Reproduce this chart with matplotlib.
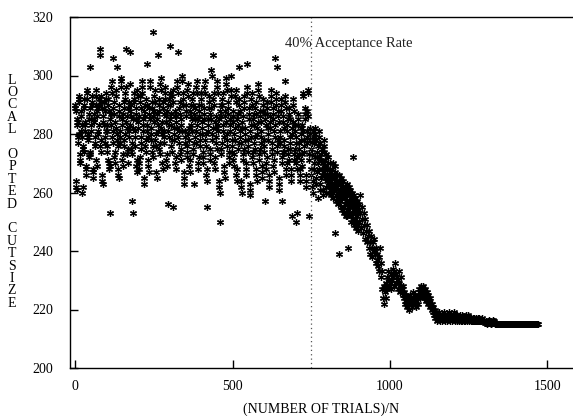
import numpy as np
import matplotlib
matplotlib.use("Agg")
import matplotlib.pyplot as plt

# Local opted cutsize readings.
# Noisy phase: one reading per trial/N from 0 to 899 (100 readings per list)
noisy_0000 = [289, 290, 288, 262, 264, 261, 283, 285, 284, 279,
              277, 280, 291, 293, 292, 271, 270, 273, 286, 288,
              281, 283, 279, 260, 262, 275, 276, 274, 290, 292,
              289, 283, 281, 284, 268, 266, 269, 294, 295, 292,
              280, 278, 279, 287, 285, 272, 274, 273, 303, 289,
              283, 281, 285, 291, 290, 293, 267, 265, 268, 285,
              287, 284, 277, 279, 276, 293, 295, 290, 271, 269,
              288, 286, 289, 281, 280, 283, 292, 290, 307, 309,
              276, 278, 274, 291, 293, 289, 264, 266, 263, 284,
              286, 283, 289, 291, 288, 279, 277, 281, 294, 292]
noisy_0100 = [283, 281, 274, 276, 271, 290, 292, 288, 268, 270,
              253, 269, 285, 287, 283, 296, 298, 294, 279, 277,
              306, 281, 289, 291, 287, 272, 270, 274, 284, 282,
              293, 295, 303, 280, 278, 276, 266, 268, 265, 288,
              290, 286, 279, 281, 277, 298, 296, 299, 283, 285,
              271, 273, 269, 287, 289, 291, 278, 276, 280, 294,
              292, 296, 309, 284, 282, 286, 273, 275, 270, 289,
              291, 281, 279, 283, 297, 308, 288, 286, 290, 275,
              257, 277, 273, 285, 253, 282, 292, 294, 291, 279,
              281, 276, 287, 285, 289, 269, 267, 271, 295, 293]
noisy_0200 = [284, 282, 286, 270, 268, 272, 291, 293, 289, 277,
              279, 275, 296, 298, 294, 283, 281, 285, 265, 263,
              288, 290, 286, 276, 274, 278, 292, 304, 290, 281,
              283, 279, 269, 271, 267, 287, 289, 285, 296, 298,
              280, 278, 282, 291, 289, 274, 276, 315, 272, 286,
              288, 284, 293, 295, 291, 278, 276, 280, 267, 265,
              285, 287, 307, 283, 281, 290, 292, 288, 275, 273,
              277, 297, 299, 295, 282, 284, 280, 270, 268, 289,
              291, 287, 279, 281, 277, 294, 292, 296, 284, 286,
              271, 273, 269, 288, 290, 256, 281, 283, 279, 292]
noisy_0300 = [294, 290, 310, 285, 287, 283, 276, 274, 278, 293,
              291, 295, 255, 280, 282, 278, 288, 286, 270, 272,
              268, 284, 286, 282, 296, 298, 294, 308, 279, 281,
              277, 289, 291, 287, 273, 275, 271, 283, 285, 281,
              300, 298, 292, 294, 290, 265, 267, 263, 279, 277,
              281, 290, 288, 286, 274, 276, 272, 295, 297, 293,
              280, 282, 278, 269, 271, 267, 288, 286, 290, 283,
              281, 285, 292, 294, 290, 275, 273, 277, 263, 287,
              289, 285, 279, 281, 277, 296, 298, 294, 283, 285,
              270, 268, 272, 288, 286, 290, 278, 280, 276, 292]
noisy_0400 = [294, 290, 282, 284, 280, 272, 270, 274, 287, 289,
              285, 296, 298, 294, 278, 276, 280, 266, 268, 264,
              255, 283, 281, 285, 291, 289, 293, 273, 271, 275,
              287, 285, 289, 302, 300, 280, 278, 282, 307, 292,
              294, 290, 270, 268, 272, 284, 286, 282, 277, 279,
              275, 296, 298, 294, 283, 281, 285, 262, 264, 260,
              250, 288, 290, 286, 275, 273, 277, 292, 290, 294,
              281, 283, 279, 267, 269, 265, 286, 288, 284, 297,
              299, 295, 278, 276, 280, 289, 287, 291, 272, 270,
              274, 283, 285, 281, 293, 295, 300, 276, 278, 274]
noisy_0500 = [286, 288, 284, 271, 269, 273, 280, 278, 282, 293,
              291, 295, 266, 264, 268, 285, 287, 283, 275, 277,
              303, 290, 292, 288, 279, 281, 277, 262, 264, 260,
              284, 282, 286, 273, 271, 275, 291, 293, 289, 280,
              278, 282, 268, 270, 266, 296, 304, 294, 276, 274,
              278, 287, 289, 285, 261, 263, 259, 281, 279, 283,
              292, 290, 294, 272, 270, 274, 285, 287, 283, 277,
              279, 275, 289, 291, 287, 266, 268, 264, 282, 280,
              284, 295, 297, 293, 273, 271, 275, 286, 288, 284,
              279, 277, 281, 267, 269, 265, 290, 292, 288, 276]
noisy_0600 = [278, 274, 257, 285, 287, 283, 270, 268, 272, 289,
              291, 287, 280, 278, 282, 264, 262, 266, 284, 286,
              282, 293, 295, 291, 275, 273, 277, 287, 289, 285,
              269, 271, 267, 281, 279, 306, 283, 292, 294, 290,
              303, 276, 274, 278, 286, 288, 284, 263, 265, 261,
              279, 277, 281, 290, 292, 288, 272, 257, 270, 274,
              284, 286, 282, 276, 274, 278, 291, 293, 298, 289,
              268, 266, 270, 283, 281, 285, 273, 275, 271, 287,
              289, 285, 277, 275, 279, 268, 266, 264, 252, 282,
              280, 284, 290, 292, 288, 273, 271, 275, 283, 281]
noisy_0700 = [279, 277, 250, 270, 253, 268, 272, 285, 287, 283,
              275, 273, 277, 266, 264, 268, 280, 282, 278, 271,
              269, 273, 283, 281, 294, 293, 276, 274, 278, 287,
              285, 289, 266, 264, 262, 279, 277, 281, 288, 286,
              294, 295, 271, 252, 273, 280, 278, 282, 268, 266,
              275, 277, 273, 262, 260, 264, 279, 281, 277, 270,
              268, 272, 280, 282, 278, 265, 263, 267, 274, 272,
              258, 276, 270, 268, 272, 279, 281, 277, 263, 261,
              265, 273, 271, 275, 268, 266, 270, 259, 261, 276,
              278, 274, 267, 265, 269, 271, 273, 262, 260, 264]
noisy_0800 = [266, 268, 264, 272, 270, 262, 260, 265, 267, 263,
              270, 268, 259, 261, 264, 266, 262, 268, 270, 258,
              260, 263, 265, 261, 267, 246, 269, 264, 262, 257,
              259, 263, 266, 262, 260, 256, 258, 239, 264, 266,
              261, 257, 259, 255, 263, 265, 261, 258, 254, 260,
              262, 264, 259, 253, 255, 260, 262, 258, 256, 252,
              257, 261, 263, 259, 254, 252, 256, 241, 260, 262,
              257, 253, 255, 259, 261, 256, 250, 252, 258, 260,
              255, 251, 253, 272, 257, 259, 254, 249, 251, 256,
              258, 253, 248, 250, 255, 257, 252, 247, 249, 254]

# Settling phase: one reading every 2 trials/N from 900 onward (50 per list)
settle_0900 = [256, 250, 259, 253, 248, 255, 251, 246, 253, 249,
               244, 251, 247, 243, 249, 245, 241, 247, 243, 239,
               245, 241, 238, 243, 240, 244, 239, 236, 241, 237,
               239, 235, 238, 233, 241, 236, 231, 227, 233, 224,
               228, 222, 226, 224, 229, 231, 227, 233, 230, 228]
settle_1000 = [229, 232, 227, 230, 234, 231, 228, 233, 236, 232,
               229, 231, 227, 230, 233, 229, 226, 228, 231, 227,
               225, 228, 224, 226, 222, 225, 223, 221, 224, 222,
               220, 223, 225, 222, 224, 221, 223, 226, 224, 222,
               225, 223, 221, 224, 222, 225, 227, 224, 226, 228]
settle_1100 = [227, 225, 228, 226, 224, 227, 225, 223, 226, 224,
               222, 225, 223, 221, 224, 222, 220, 222, 219, 221,
               218, 220, 217, 219, 218, 216, 218, 217, 219, 216,
               218, 217, 216, 218, 217, 219, 217, 216, 218, 217,
               216, 218, 217, 219, 218, 216, 217, 218, 216, 217]
settle_1200 = [218, 219, 217, 216, 218, 217, 216, 218, 217, 216,
               217, 218, 216, 217, 216, 218, 217, 216, 217, 216,
               217, 218, 217, 216, 218, 217, 216, 217, 216, 217,
               216, 217, 216, 216, 217, 216, 217, 216, 216, 217,
               216, 216, 217, 216, 216, 216, 217, 216, 216, 216]
settle_1300 = [216, 215.5, 216, 215.5, 215, 215.5, 216, 216.5, 216, 215.5,
               215, 215, 215.5, 216, 216.5, 216, 215.5, 215, 215, 215,
               215, 215, 215, 215, 215, 215, 215, 215, 215, 215,
               215, 215, 215, 215, 215, 215, 215, 215, 215, 215,
               215, 215, 215, 215, 215, 215, 215, 215, 215, 215]
settle_1400 = [215, 215, 215, 215, 215, 215, 215, 215, 215, 215,
               215, 215, 215, 215, 215, 215, 215, 215, 215, 215,
               215, 215, 215, 215, 215, 215, 215, 215, 215, 215,
               215, 215, 215, 215, 215, 215]

noisy_lists = [noisy_0000, noisy_0100, noisy_0200, noisy_0300, noisy_0400,
               noisy_0500, noisy_0600, noisy_0700, noisy_0800]
settle_lists = [settle_0900, settle_1000, settle_1100, settle_1200,
                settle_1300, settle_1400]
noisy_start, noisy_step = 0, 1
settle_start, settle_step = 900, 2

acceptance_x = 750
acceptance_label = "40% Acceptance Rate"
x_ticks = [0, 500, 1000, 1500]
y_ticks = [200, 220, 240, 260, 280, 300, 320]
x_label = "(NUMBER OF TRIALS)/N"
y_label = "LOCAL OPTED CUTSIZE"

y_noisy = np.concatenate([np.asarray(s, dtype=float) for s in noisy_lists])
y_settle = np.concatenate([np.asarray(s, dtype=float) for s in settle_lists])
x_noisy = noisy_start + noisy_step * np.arange(len(y_noisy))
x_settle = settle_start + settle_step * np.arange(len(y_settle))
trials = np.concatenate([x_noisy, x_settle])
cutsize = np.concatenate([y_noisy, y_settle])

plt.rcParams["font.family"] = ["Liberation Serif", "DejaVu Serif"]

W, H = 573, 416
fig = plt.figure(figsize=(W / 100, H / 100), dpi=100)
ax = fig.add_axes([70 / W, (H - 368) / H, (W - 70) / W, (368 - 17) / H])

ax.plot(trials, cutsize, linestyle="none", marker=(6, 2, 0), markersize=5,
        markeredgewidth=0.9, color="black")
ax.axvline(acceptance_x, color="#555555", linestyle=(0, (1, 2.5)), linewidth=0.9)
ax.text(acceptance_x - 83, 310.8, acceptance_label, fontsize=10.5,
        va="center", ha="left", color="#222222")

ax.set_xlim(-16, 1581)
ax.set_ylim(200, 320)
ax.set_xticks(x_ticks)
ax.set_yticks(y_ticks)
ax.tick_params(direction="in", length=6, width=1, labelsize=10, top=False, right=False)
ax.tick_params(axis="y", pad=12)
ax.tick_params(axis="x", pad=9)
ax.spines["right"].set_visible(False)
for s in ["left", "bottom", "top"]:
    ax.spines[s].set_linewidth(1.0)

fig.text((70 + 503 / 2) / W, (H - 409) / H, x_label, ha="center", va="center", fontsize=10)

# vertical stacked y-label
for i, ch in enumerate(y_label):
    if ch == " ":
        continue
    ypx = 80 + i * 12.4
    fig.text(12 / W, (H - ypx) / H, ch, ha="center", va="center", fontsize=10)

fig.savefig("out.png", dpi=100)
